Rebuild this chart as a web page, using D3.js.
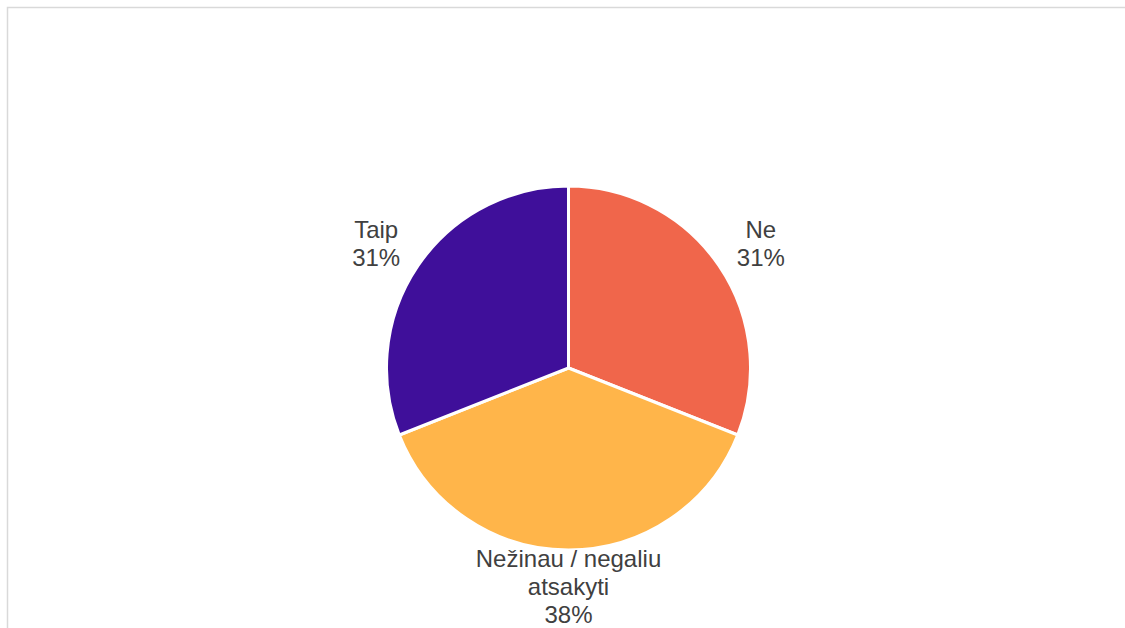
<!DOCTYPE html>
<html>
<head>
<meta charset="utf-8">
<script src="https://cdn.jsdelivr.net/npm/d3@7"></script>
<style>
  html, body { margin: 0; padding: 0; background: #ffffff; }
  svg { display: block; }
</style>
</head>
<body>
<svg id="chart" width="1125" height="628"></svg>
<script>
// Survey answers, in drawing order (clockwise from 12 o'clock)
const categories = ["Ne", "Nežinau / negaliu atsakyti", "Taip"];
const labelLines = [["Ne"], ["Nežinau / negaliu", "atsakyti"], ["Taip"]];
const values = [31, 38, 31];
const colors = ["#F0664B", "#FFB54A", "#3F0F9A"];

const svg = d3.select("#chart");
const W = 1125, H = 628;

// Frame around the chart area
svg.append("rect")
  .attr("x", 7.5).attr("y", 7.5)
  .attr("width", W + 10).attr("height", H + 10)
  .attr("fill", "none")
  .attr("stroke", "#d9d9d9")
  .attr("stroke-width", 1.5);

const cx = 568.5, cy = 368, r = 182;

const data = categories.map((c, i) => ({ name: c, value: values[i], lines: labelLines[i], color: colors[i] }));

const pie = d3.pie().sort(null).value(d => d.value);
const arcs = pie(data);
const arc = d3.arc().innerRadius(0).outerRadius(r);

const g = svg.append("g").attr("transform", `translate(${cx},${cy})`);

g.selectAll("path.slice")
  .data(arcs)
  .join("path")
  .attr("class", "slice")
  .attr("d", arc)
  .attr("fill", d => d.data.color)
  .attr("stroke", "#ffffff")
  .attr("stroke-width", 3)
  .attr("stroke-linejoin", "round");

// Labels placed just outside each slice, text block centred on the label point
const fontSize = 24, lineH = 28;
const labelR = 228;

arcs.forEach(a => {
  const mid = (a.startAngle + a.endAngle) / 2;
  const lines = a.data.lines.concat([d3.format(".0f")(a.data.value) + "%"]);
  let x = Math.sin(mid) * labelR * 1.02;
  let yc = -Math.cos(mid) * labelR + 4;
  if (Math.abs(mid - Math.PI) < 0.3) {
    // bottom slice: block hangs just under the rim
    x = 0;
    yc = r + 37;
  }
  const y0 = yc - (lines.length - 1) * lineH / 2;
  const t = g.append("text")
    .attr("text-anchor", "middle")
    .attr("font-family", "'Liberation Sans', Arial, sans-serif")
    .attr("font-size", fontSize)
    .attr("fill", "#404040");
  lines.forEach((ln, i) => {
    t.append("tspan")
      .attr("x", x)
      .attr("y", y0 + i * lineH)
      .attr("dy", "0.35em")
      .text(ln);
  });
});
</script>
</body>
</html>
